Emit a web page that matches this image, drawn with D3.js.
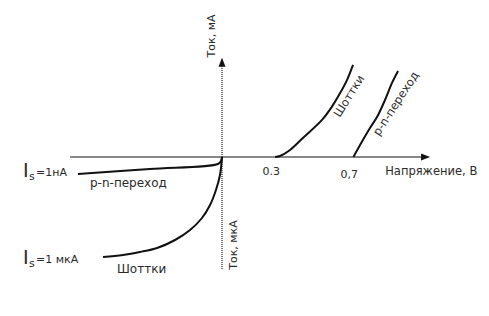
<!DOCTYPE html>
<html>
<head>
<meta charset="utf-8">
<script src="https://cdn.jsdelivr.net/npm/d3@7/dist/d3.min.js"></script>
<style>
  body { margin: 0; background: #fff; }
  svg text { font-family: 'DejaVu Sans', Verdana, sans-serif; fill: #2a2a2a; }
</style>
</head>
<body>
<svg id="vac-svg" width="489" height="316"></svg>
<script>
'use strict'
// forward branches: voltage (V) / current (mA)
var schottkyForwardV = [0.295, 0.32, 0.372, 0.438, 0.536, 0.587, 0.628, 0.664, 0.695]
var schottkyForwardI = [0, 0.1, 0.74, 2.0, 3.9, 5.3, 6.7, 8.1, 9.7]
var pnForwardV = [0.697, 0.731, 0.782, 0.818, 0.859, 0.895, 0.926]
var pnForwardI = [0, 1.26, 3.05, 4.2, 6.0, 7.8, 9.05]
// reverse branches: relative voltage / current (Is of Schottky = -1)
var schottkyReverseV = [-0.826, -0.688, -0.569, -0.451, -0.326, -0.222, -0.139, -0.083, -0.042, -0.014, 0]
var schottkyReverseI = [-1.0, -0.98, -0.95, -0.91, -0.83, -0.73, -0.61, -0.48, -0.33, -0.18, 0]
var pnReverseV = [-1, -0.5, -0.028, -0.007, 0]
var pnReverseI = [-0.17, -0.12, -0.07, -0.04, 0]
var voltTicks = [0.3, 0.7]
var voltTickLabels = ['0.3', '0,7']

var svg = d3.select('#vac-svg')
var x = d3.scaleLinear().domain([-1, 0, 0.3, 0.7]).range([78, 222, 276, 354])
var yFwd = d3.scaleLinear().domain([0, 10]).range([157, 62])
var yRev = d3.scaleLinear().domain([0, -1]).range([157, 257])

function zip (vs, is) {
  return vs.map(function (v, i) { return [v, is[i]] })
}

// axes
var x0 = x(0)
var y0 = yFwd(0)
svg.append('line')
  .attr('x1', x0).attr('x2', x0)
  .attr('y1', yFwd(10.2)).attr('y2', yRev(-1.13))
  .attr('stroke', '#555')
  .attr('stroke-width', 1.6)
  .attr('stroke-dasharray', '1,1')
svg.append('path')
  .attr('d', 'M' + x0 + ',' + yFwd(10.45) + 'l-3.5,9l7,0z')
  .attr('fill', '#111')
var xEnd = x(1.09)
svg.append('line')
  .attr('x1', x(-1.055)).attr('x2', xEnd - 4)
  .attr('y1', y0).attr('y2', y0)
  .attr('stroke', '#111')
  .attr('stroke-width', 1.2)
svg.append('path')
  .attr('d', 'M' + xEnd + ',' + y0 + 'l-9,-3.5l0,7z')
  .attr('fill', '#111')

// curves
var lineFwd = d3.line()
  .x(function (d) { return x(d[0]) })
  .y(function (d) { return yFwd(d[1]) })
  .curve(d3.curveCatmullRom.alpha(0.5))
var lineRev = d3.line()
  .x(function (d) { return x(d[0]) })
  .y(function (d) { return yRev(d[1]) })
  .curve(d3.curveCatmullRom.alpha(0.5))

var curves = [
  { line: lineFwd, data: zip(schottkyForwardV, schottkyForwardI) },
  { line: lineFwd, data: zip(pnForwardV, pnForwardI) },
  { line: lineRev, data: zip(schottkyReverseV, schottkyReverseI) },
  { line: lineRev, data: zip(pnReverseV, pnReverseI) }
]
curves.forEach(function (c) {
  svg.append('path')
    .attr('d', c.line(c.data))
    .attr('fill', 'none')
    .attr('stroke', '#111')
    .attr('stroke-width', 2)
})

// tick labels
svg.selectAll('.volt-tick')
  .data(voltTicks)
  .enter()
  .append('text')
  .attr('class', 'volt-tick')
  .attr('x', function (d) { return x(d) + 4 })
  .attr('y', function (d, i) { return y0 + 18 + i * 3 })
  .attr('text-anchor', 'end')
  .attr('font-size', 11)
  .text(function (d, i) { return voltTickLabels[i] })

svg.append('text')
  .attr('x', x(0.86)).attr('y', y0 + 18)
  .attr('font-size', 11.5)
  .text('Напряжение, В')

svg.append('text')
  .attr('transform', 'translate(' + (x0 - 7) + ',' + 36 + ') rotate(-90)')
  .attr('text-anchor', 'middle')
  .attr('font-size', 11)
  .text('Ток, мА')
svg.append('text')
  .attr('transform', 'translate(' + (x0 + 15) + ',' + 245 + ') rotate(-90)')
  .attr('text-anchor', 'middle')
  .attr('font-size', 11)
  .text('Ток, мкА')

// curve labels
function slantLabel (cx, cy, angle, txt) {
  svg.append('text')
    .attr('transform', 'translate(' + cx + ',' + cy + ') rotate(' + angle + ')')
    .attr('text-anchor', 'middle')
    .attr('font-size', 11.5)
    .text(txt)
}
slantLabel(x(0.66) + 6, yFwd(6.2), -58, 'Шоттки')
slantLabel(x(0.9) + 6, yFwd(5.4), -57, 'p-n-переход')

svg.append('text')
  .attr('x', 90).attr('y', yRev(-0.3))
  .attr('font-size', 12)
  .text('p-n-переход')
svg.append('text')
  .attr('x', 117).attr('y', yRev(-1.16))
  .attr('font-size', 12)
  .text('Шоттки')

// saturation current labels
function isLabel (baseY, value) {
  var g = svg.append('g').attr('transform', 'translate(23,' + baseY + ')')
  g.append('text').attr('font-size', 19).attr('font-family', 'Liberation Sans').text('I')
  g.append('text').attr('x', 6).attr('y', 3).attr('font-size', 11).text('s')
  g.append('text').attr('x', 13).attr('y', -1).attr('font-size', 11).text('=' + value)
}
isLabel(yRev(-0.2), '1нA')
isLabel(yRev(-1.07), '1 мкА')
</script>
</body>
</html>
